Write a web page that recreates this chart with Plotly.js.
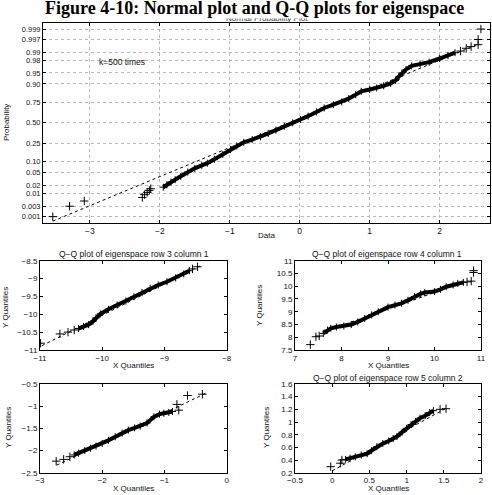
<!DOCTYPE html>
<html>
<head>
<meta charset="utf-8">
<script src="https://cdn.plot.ly/plotly-3.0.1.min.js"></script>
<style>html,body{margin:0;padding:0;background:#fff;}#chart{width:492px;height:495px;}</style>
</head>
<body>
<div id="chart"></div>
<script>
// ---------- Normal probability plot (k = 500) ----------
const probTicks = [0.001, 0.003, 0.01, 0.02, 0.05, 0.10, 0.25, 0.50, 0.75, 0.90, 0.95, 0.98, 0.99, 0.997, 0.999];
const probTickLabels = ["0.001","0.003","0.01","0.02","0.05","0.10","0.25","0.50","0.75","0.90","0.95","0.98","0.99","0.997","0.999"];
const dataTicks = [-3, -2, -1, 0, 1, 2];

const lowTailX = [-3.53, -3.29, -3.08, -2.25, -2.22, -2.18, -2.15, -2.13];
const lowTailP = [0.001, 0.003, 0.005, 0.007, 0.009, 0.011, 0.013, 0.015];
const bodyX = [-1.95,-1.90,-1.84,-1.78,-1.70,-1.60,-1.50,-1.40,-1.32,-1.22,-1.10,-0.99,-0.90,-0.80,-0.68,-0.56,-0.45,-0.34,-0.22,-0.10,0.01,0.12,0.24,0.35,0.48,0.60,0.70,0.80,0.88,1.00,1.10,1.20,1.30,1.37,1.42,1.46,1.52,1.60,1.72,1.85,2.00,2.12,2.22];
const bodyP = [0.0170,0.0207,0.0256,0.0307,0.0392,0.0526,0.0668,0.0808,0.0918,0.1151,0.1492,0.1894,0.2236,0.2611,0.2912,0.3228,0.3632,0.4052,0.4562,0.5000,0.5438,0.5871,0.6406,0.6879,0.7257,0.7549,0.7881,0.8238,0.8508,0.8643,0.8749,0.8888,0.9032,0.9192,0.9370,0.9495,0.9608,0.9699,0.9738,0.9772,0.9830,0.9868,0.9896];
const highTailX = [2.30, 2.38, 2.45, 2.55, 2.55, 2.59];
const highTailP = [0.991, 0.993, 0.994, 0.995, 0.997, 0.999];
const fitX = [-3.53, 2.57];
const fitP = [0.0006, 0.9955];

// ---------- Q-Q plots ----------
// row 3 column 1
const q1TailX = [-10.99,-10.68,-10.55,-10.45,-8.55,-8.47];
const q1TailY = [-10.81,-10.55,-10.50,-10.44,-8.73,-8.67];
const q1X = [-10.38,-10.30,-10.22,-10.15,-10.10,-10.03,-9.90,-9.76,-9.62,-9.49,-9.36,-9.23,-9.10,-8.96,-8.82,-8.69,-8.60];
const q1Y = [-10.40,-10.34,-10.29,-10.20,-10.10,-9.99,-9.86,-9.74,-9.63,-9.51,-9.39,-9.27,-9.18,-9.09,-8.98,-8.87,-8.78];
const q1LineX = [-10.97, -8.42];
const q1LineY = [-10.88, -8.64];
// row 4 column 1
const q2TailX = [7.33,7.45,7.52,10.70,10.79,10.84,10.84];
const q2TailY = [7.71,8.02,8.05,10.17,10.20,10.54,10.61];
const q2X = [7.61,7.70,7.77,7.89,8.05,8.21,8.35,8.50,8.65,8.79,9.00,9.15,9.29,9.43,9.57,9.70,9.79,10.00,10.13,10.25,10.40,10.50,10.62];
const q2Y = [8.15,8.28,8.35,8.40,8.44,8.50,8.60,8.74,8.88,9.00,9.18,9.26,9.33,9.45,9.59,9.70,9.75,9.79,9.88,9.98,10.05,10.11,10.15];
const q2LineX = [7.60, 10.60];
const q2LineY = [8.20, 10.14];
// (untitled) lower left
const q3TailX = [-2.74,-2.62,-2.52,-0.77,-0.80,-0.63,-0.39];
const q3TailY = [-2.24,-2.20,-2.14,-1.09,-0.96,-0.76,-0.73];
const q3X = [-2.45,-2.38,-2.28,-2.19,-2.10,-2.00,-1.90,-1.79,-1.68,-1.58,-1.48,-1.39,-1.28,-1.17,-1.08,-1.01,-0.93,-0.87];
const q3Y = [-2.10,-2.06,-2.00,-1.95,-1.90,-1.84,-1.77,-1.69,-1.61,-1.54,-1.49,-1.45,-1.38,-1.24,-1.18,-1.16,-1.14,-1.12];
const q3LineX = [-2.73, -0.34];
const q3LineY = [-2.33, -0.71];
// row 5 column 2
const q4TailX = [-0.02,0.11,0.13,1.45,1.53];
const q4TailY = [0.295,0.35,0.40,1.20,1.21];
const q4X = [0.18,0.24,0.31,0.39,0.47,0.53,0.60,0.68,0.76,0.82,0.87,0.94,1.00,1.06,1.12,1.18,1.25,1.31,1.36];
const q4Y = [0.41,0.43,0.45,0.48,0.50,0.55,0.61,0.66,0.70,0.74,0.77,0.84,0.90,0.96,1.01,1.06,1.10,1.15,1.18];
const q4LineX = [0.0, 1.55];
const q4LineY = [0.23, 1.23];

// inverse standard normal CDF (Acklam)
function norminv(p){
  const a=[-3.969683028665376e+01,2.209460984245205e+02,-2.759285104469687e+02,1.383577518672690e+02,-3.066479806614716e+01,2.506628277459239e+00];
  const b=[-5.447609879822406e+01,1.615858368580409e+02,-1.556989798598866e+02,6.680131188771972e+01,-1.328068155288572e+01];
  const c=[-7.784894002430293e-03,-3.223964580411365e-01,-2.400758277161838e+00,-2.549671348133770e+00,4.374664141464968e+00,2.938163982698783e+00];
  const d=[7.784695709041462e-03,3.224671290700398e-01,2.445134137142996e+00,3.754408661907416e+00];
  const pl=0.02425, ph=1-pl; let q,r;
  if(p<pl){q=Math.sqrt(-2*Math.log(p));return (((((c[0]*q+c[1])*q+c[2])*q+c[3])*q+c[4])*q+c[5])/((((d[0]*q+d[1])*q+d[2])*q+d[3])*q+1);}
  if(p<=ph){q=p-0.5;r=q*q;return (((((a[0]*r+a[1])*r+a[2])*r+a[3])*r+a[4])*r+a[5])*q/(((((b[0]*r+b[1])*r+b[2])*r+b[3])*r+b[4])*r+1);}
  q=Math.sqrt(-2*Math.log(1-p));return -(((((c[0]*q+c[1])*q+c[2])*q+c[3])*q+c[4])*q+c[5])/((((d[0]*q+d[1])*q+d[2])*q+d[3])*q+1);
}
const Z = arr => arr.map(norminv);

const W = 492, H = 495;
const px = x => x / W;
const py = y => 1 - y / H;

const FONT = 'Liberation Sans, Arial, sans-serif';
const NARROW = 'Liberation Sans Narrow, Arial Narrow, Liberation Sans, Arial, sans-serif';
const plus = {symbol: 'cross-thin', size: 6, color: '#000', line: {color: '#000', width: 1}};
const bodyMarker = {symbol: 'cross-thin', size: 5, color: '#000', line: {color: '#000', width: 1}};

function tailTrace(x, y, xa, ya){ return {x, y, xaxis: xa, yaxis: ya, type: 'scatter', mode: 'markers', marker: plus, hoverinfo: 'skip'}; }
function bodyTrace(x, y, xa, ya){ return {x, y, xaxis: xa, yaxis: ya, type: 'scatter', mode: 'lines+markers', line: {color: '#000', width: 4}, marker: bodyMarker, hoverinfo: 'skip'}; }
function lineTrace(x, y, xa, ya){ return {x, y, xaxis: xa, yaxis: ya, type: 'scatter', mode: 'lines', line: {color: '#000', width: 1, dash: '3px,3px'}, hoverinfo: 'skip'}; }

const traces = [
  lineTrace(fitX, Z(fitP), 'x', 'y'),
  tailTrace(lowTailX, Z(lowTailP), 'x', 'y'),
  bodyTrace(bodyX, Z(bodyP), 'x', 'y'),
  tailTrace(highTailX, Z(highTailP), 'x', 'y'),

  lineTrace(q1LineX, q1LineY, 'x2', 'y2'),
  bodyTrace(q1X, q1Y, 'x2', 'y2'),
  tailTrace(q1TailX, q1TailY, 'x2', 'y2'),

  lineTrace(q2LineX, q2LineY, 'x3', 'y3'),
  bodyTrace(q2X, q2Y, 'x3', 'y3'),
  tailTrace(q2TailX, q2TailY, 'x3', 'y3'),

  lineTrace(q3LineX, q3LineY, 'x4', 'y4'),
  bodyTrace(q3X, q3Y, 'x4', 'y4'),
  tailTrace(q3TailX, q3TailY, 'x4', 'y4'),

  lineTrace(q4LineX, q4LineY, 'x5', 'y5'),
  bodyTrace(q4X, q4Y, 'x5', 'y5'),
  tailTrace(q4TailX, q4TailY, 'x5', 'y5')
];

const tickFont = {family: FONT, size: 8, color: '#111'};
function ax(domain, range, extra){
  return Object.assign({
    domain, range, showline: true, linecolor: '#000', linewidth: 1, mirror: 'ticks',
    ticks: 'inside', ticklen: 3, tickcolor: '#000', showgrid: false, zeroline: false,
    tickfont: tickFont, fixedrange: true
  }, extra || {});
}

const subL = [px(40), px(226.7)];
const subR = [px(295), px(481)];
const rowTop = [py(350), py(260.7)];
const rowBot = [py(472.7), py(384)];

function label(text, x, y, size, extra){
  return Object.assign({text, x: px(x), y: py(y), xref: 'paper', yref: 'paper', xanchor: 'center', yanchor: 'middle', showarrow: false, font: {family: FONT, size, color: '#111'}}, extra || {});
}
function vlabel(text, x, y, size){
  return label(text, x, y, size, {textangle: -90, font: {family: NARROW, size, color: '#111'}});
}

const layout = {
  width: W, height: H,
  margin: {l: 0, r: 0, t: 0, b: 0},
  paper_bgcolor: '#fff', plot_bgcolor: '#fff',
  showlegend: false,
  font: {family: FONT, size: 8, color: '#111'},
  xaxis: ax([px(43), px(490)], [-3.67, 2.72], {anchor: 'y', tickvals: dataTicks, showgrid: true, gridcolor: '#b8b8b8', griddash: 'dot', gridwidth: 1, tickfont: {family: FONT, size: 8.5, color: '#111'}}),
  yaxis: ax([py(222.7), py(22.7)], [-3.29, 3.30], {anchor: 'x', tickvals: Z(probTicks), ticktext: probTickLabels, showgrid: true, gridcolor: '#b8b8b8', griddash: 'dot', gridwidth: 1, tickfont: {family: FONT, size: 7.5, color: '#111'}}),
  xaxis2: ax(subL, [-11, -8], {anchor: 'y2', dtick: 1}),
  yaxis2: ax(rowTop, [-11, -8.5], {anchor: 'x2', dtick: 0.5}),
  xaxis3: ax(subR, [7, 11], {anchor: 'y3', dtick: 1}),
  yaxis3: ax(rowTop, [7.5, 11], {anchor: 'x3', dtick: 0.5}),
  xaxis4: ax(subL, [-3, 0], {anchor: 'y4', dtick: 1}),
  yaxis4: ax(rowBot, [-2.5, -0.5], {anchor: 'x4', dtick: 0.5}),
  xaxis5: ax(subR, [-0.5, 2], {anchor: 'y5', dtick: 0.5}),
  yaxis5: ax(rowBot, [0.2, 1.6], {anchor: 'x5', dtick: 0.2}),
  annotations: [
    // subtitle partly hidden beneath the figure title
    label('Normal Probability Plot', 267, 18, 8, {font: {family: FONT, size: 8, color: '#333'}}),
    // figure title
    {text: '<b>Figure 4-10: Normal plot and Q-Q plots for eigenspace</b>', x: px(254), y: py(-3.5), xref: 'paper', yref: 'paper', xanchor: 'center', yanchor: 'top', showarrow: false, bgcolor: '#fff', borderpad: 0, font: {family: 'Liberation Serif, Times New Roman, serif', size: 18, color: '#000'}},
    label('k=500 times', 97, 62, 8.5, {xanchor: 'left'}),
    label('Data', 266, 236, 8),
    vlabel('Probability', 6, 123, 8),

    label('Q\u2212Q plot of eigenspace row 3 column 1', 134, 254, 8.5),
    label('Q\u2212Q plot of eigenspace row 4 column 1', 387, 254, 8.5),
    label('Q\u2212Q plot of eigenspace row 5 column 2', 388, 378, 8.5),

    label('X Quantiles', 133, 365, 8),
    label('X Quantiles', 388, 365, 8),
    label('X Quantiles', 133, 488, 8),
    label('X Quantiles', 388, 488, 8),

    vlabel('Y Quantiles', 5, 308, 8),
    vlabel('Y Quantiles', 259, 306, 8),
    vlabel('Y Quantiles', 8, 428, 8),
    vlabel('Y Quantiles', 266, 428, 8)
  ]
};

Plotly.newPlot('chart', traces, layout, {staticPlot: true, displayModeBar: false});
</script>
</body>
</html>
